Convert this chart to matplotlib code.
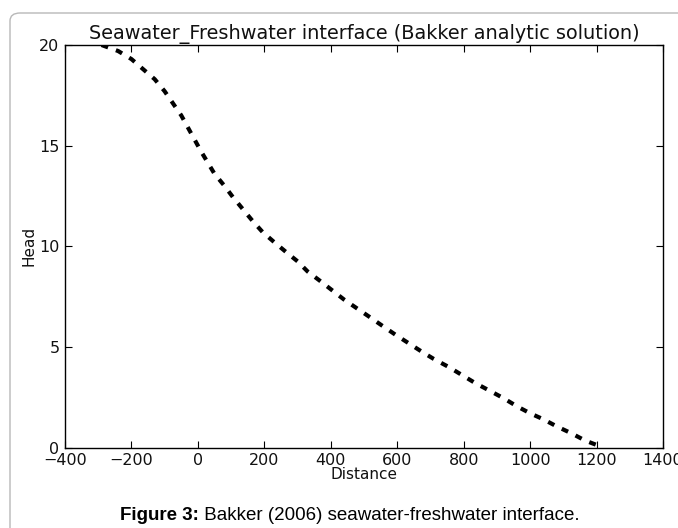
import matplotlib
matplotlib.use("Agg")
import matplotlib.pyplot as plt
from matplotlib.patches import FancyBboxPatch

# interface head vs distance
distance = [-290, -240, -200, -165, -130, -100, -75, -50, -30, -10, 10, 30, 50, 80,
            105, 135, 165, 195, 230, 270, 300, 330, 370, 405, 440, 480, 520, 555,
            595, 675, 710, 755, 795, 835, 875, 920, 960, 1000, 1040, 1080, 1125,
            1165, 1220]
head = [20.0, 19.7, 19.3, 18.8, 18.3, 17.7, 17.1, 16.5, 15.9, 15.3, 14.7, 14.15,
        13.6, 13.0, 12.45, 11.85, 11.25, 10.7, 10.2, 9.65, 9.25, 8.75, 8.25, 7.8,
        7.35, 6.9, 6.45, 6.05, 5.6, 4.75, 4.4, 4.0, 3.6, 3.2, 2.85, 2.45, 2.05,
        1.7, 1.4, 1.05, 0.7, 0.35, 0.0]

xticks = [-400, -200, 0, 200, 400, 600, 800, 1000, 1200, 1400]
yticks = [0, 5, 10, 15, 20]

title = "Seawater_Freshwater interface (Bakker analytic solution)"
caption_bold = "Figure 3:"
caption_rest = " Bakker (2006) seawater-freshwater interface."

plt.rcParams['lines.scale_dashes'] = False

fig = plt.figure(figsize=(6.78, 5.28), dpi=100)

# rounded frame around the figure
frame = FancyBboxPatch((10 / 678, -0.2), 1.2, (528 - 13) / 528 + 0.2,
                       boxstyle="round,pad=0,rounding_size=0.015",
                       transform=fig.transFigure, fill=False,
                       edgecolor="#b8b8b8", linewidth=1.0)
fig.patches.append(frame)

ax = fig.add_axes([65 / 678, 1 - 447.5 / 528, 598 / 678, 402.5 / 528])
ax.plot(distance, head, color='black', linewidth=3, linestyle=(0, (5, 6)))

ax.set_xlim(-400, 1400)
ax.set_ylim(0, 20)
ax.set_xticks(xticks)
ax.set_yticks(yticks)
ax.tick_params(direction='in', top=True, right=True, length=5, width=0.8,
               labelsize=11.5, pad=4, labelcolor='#111111')
for sp in ax.spines.values():
    sp.set_linewidth(1.0)
ax.set_xlabel("Distance", fontsize=11, labelpad=-1, color='#111111')
ax.set_ylabel("Head", fontsize=11, labelpad=2, color='#111111')
ax.set_title(title, fontsize=13.9, pad=4, color='#111111')

# caption: bold part followed by regular part
cap_font = ['Liberation Sans', 'DejaVu Sans']
cap_y = 1 - 515 / 528
t1 = fig.text(120 / 678, cap_y, caption_bold, fontsize=13.5,
              fontweight='bold', family=cap_font, va='center', ha='left')
fig.canvas.draw()
bb = t1.get_window_extent()
fig.text(bb.x1 / fig.bbox.width, cap_y, caption_rest, fontsize=13.5,
         family=cap_font, va='center', ha='left')

fig.savefig("out.png", dpi=100)
